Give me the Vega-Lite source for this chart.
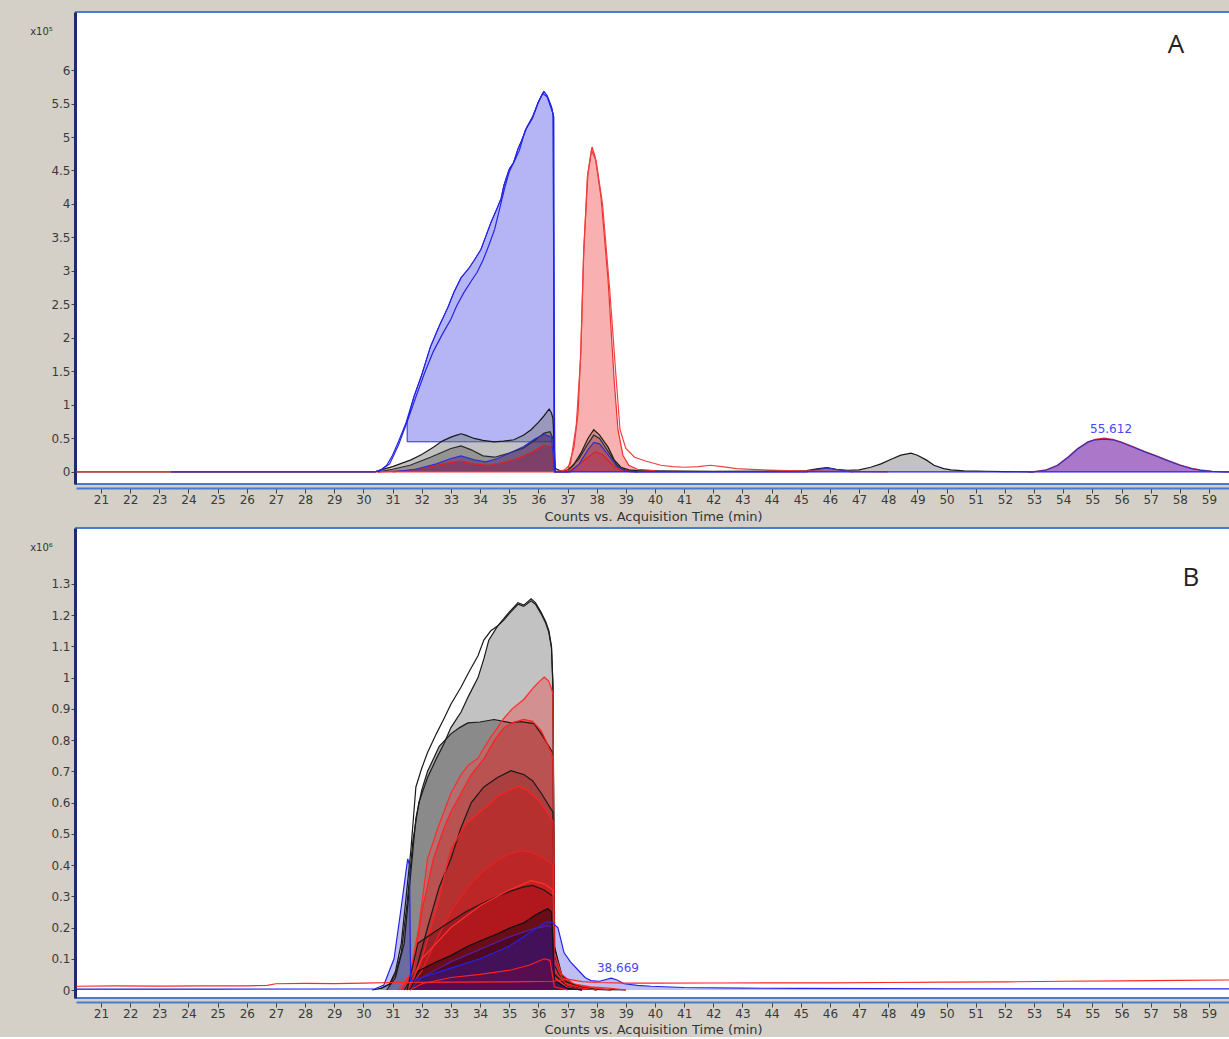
{
"$schema": "https://vega.github.io/schema/vega-lite/v6.json",
"background": "#d4d0c8",
"padding": {"left": 28, "top": 11, "right": 0, "bottom": 0},
"config": {
  "view": {"fill": "white", "stroke": "#4a7bd0", "strokeWidth": 2},
  "axis": {"labelFont": "DejaVu Sans", "labelFontSize": 12, "labelColor": "#3a3a3a", "titleFont": "DejaVu Sans", "titleFontSize": 13, "titleFontWeight": "normal", "titleColor": "#333", "grid": false, "tickColor": "#444", "labelOverlap": false},
  "text": {"font": "DejaVu Sans"}
},
"datasets": {
"a": [
{"s":"A01","t":20.15,"c":0},{"s":"A01","t":23.2,"c":0},{"s":"A01","t":30.4,"c":0},{"s":"A01","t":30.6,"c":3000},{"s":"A01","t":31.0,"c":8000},{"s":"A01","t":31.63,"c":18000},{"s":"A01","t":32.0,"c":26000},{"s":"A01","t":32.4,"c":37000},{"s":"A01","t":32.7,"c":46000},{"s":"A01","t":33.0,"c":52000},{"s":"A01","t":33.2,"c":55000},{"s":"A01","t":33.35,"c":57000},{"s":"A01","t":33.5,"c":55000},{"s":"A01","t":33.8,"c":50000},{"s":"A01","t":34.1,"c":47000},{"s":"A01","t":34.48,"c":45000},{"s":"A01","t":34.8,"c":46000},{"s":"A01","t":35.16,"c":48000},{"s":"A01","t":35.5,"c":55000},{"s":"A01","t":35.75,"c":63000},{"s":"A01","t":36.0,"c":74000},{"s":"A01","t":36.16,"c":82000},{"s":"A01","t":36.3,"c":90000},{"s":"A01","t":36.37,"c":94000},{"s":"A01","t":36.45,"c":88000},{"s":"A01","t":36.5,"c":80000},{"s":"A01","t":36.58,"c":5000},{"s":"A01","t":36.8,"c":1000},{"s":"A01","t":37.0,"c":3000},{"s":"A01","t":37.2,"c":10000},{"s":"A01","t":37.46,"c":28000},{"s":"A01","t":37.7,"c":50000},{"s":"A01","t":37.9,"c":63000},{"s":"A01","t":38.1,"c":55000},{"s":"A01","t":38.39,"c":37000},{"s":"A01","t":38.6,"c":18000},{"s":"A01","t":38.83,"c":7000},{"s":"A01","t":39.1,"c":3000},{"s":"A01","t":39.4,"c":2000},{"s":"A01","t":40.0,"c":1500},{"s":"A01","t":42.0,"c":1000},{"s":"A01","t":44.0,"c":1500},{"s":"A01","t":45.2,"c":2000},{"s":"A01","t":45.6,"c":5000},{"s":"A01","t":45.9,"c":6500},{"s":"A01","t":46.2,"c":4000},{"s":"A01","t":46.6,"c":2500},{"s":"A01","t":47.0,"c":3000},{"s":"A01","t":47.4,"c":7000},{"s":"A01","t":47.75,"c":12000},{"s":"A01","t":48.1,"c":19000},{"s":"A01","t":48.43,"c":25000},{"s":"A01","t":48.78,"c":28000},{"s":"A01","t":49.0,"c":25000},{"s":"A01","t":49.3,"c":18000},{"s":"A01","t":49.57,"c":10000},{"s":"A01","t":49.9,"c":5000},{"s":"A01","t":50.15,"c":3000},{"s":"A01","t":50.6,"c":1500},{"s":"A01","t":51.35,"c":1000},{"s":"A01","t":52.0,"c":500},{"s":"A01","t":53.0,"c":0},
{"s":"A02","t":30.5,"c":0},{"s":"A02","t":31.0,"c":4000},{"s":"A02","t":31.6,"c":10000},{"s":"A02","t":32.3,"c":22000},{"s":"A02","t":33.0,"c":35000},{"s":"A02","t":33.35,"c":39000},{"s":"A02","t":33.7,"c":33000},{"s":"A02","t":34.1,"c":24000},{"s":"A02","t":34.5,"c":22000},{"s":"A02","t":35.0,"c":28000},{"s":"A02","t":35.5,"c":36000},{"s":"A02","t":35.9,"c":48000},{"s":"A02","t":36.2,"c":58000},{"s":"A02","t":36.4,"c":60000},{"s":"A02","t":36.5,"c":50000},{"s":"A02","t":36.58,"c":0},{"s":"A02","t":37.0,"c":2000},{"s":"A02","t":37.4,"c":20000},{"s":"A02","t":37.7,"c":42000},{"s":"A02","t":37.9,"c":55000},{"s":"A02","t":38.1,"c":50000},{"s":"A02","t":38.4,"c":30000},{"s":"A02","t":38.7,"c":10000},{"s":"A02","t":39.0,"c":2000},{"s":"A02","t":39.4,"c":0},
{"s":"A03","t":30.5,"c":0},{"s":"A03","t":31.5,"c":2000},{"s":"A03","t":32.3,"c":8000},{"s":"A03","t":33.0,"c":14000},{"s":"A03","t":33.35,"c":16000},{"s":"A03","t":33.8,"c":12000},{"s":"A03","t":34.3,"c":10000},{"s":"A03","t":34.8,"c":14000},{"s":"A03","t":35.3,"c":20000},{"s":"A03","t":35.8,"c":30000},{"s":"A03","t":36.2,"c":40000},{"s":"A03","t":36.45,"c":38000},{"s":"A03","t":36.55,"c":0},{"s":"A03","t":37.0,"c":0},{"s":"A03","t":37.3,"c":8000},{"s":"A03","t":37.7,"c":22000},{"s":"A03","t":37.95,"c":30000},{"s":"A03","t":38.2,"c":26000},{"s":"A03","t":38.5,"c":12000},{"s":"A03","t":38.8,"c":3000},{"s":"A03","t":39.2,"c":0},
{"s":"A04","t":31.0,"c":0},{"s":"A04","t":31.8,"c":4000},{"s":"A04","t":32.5,"c":12000},{"s":"A04","t":33.0,"c":20000},{"s":"A04","t":33.35,"c":24000},{"s":"A04","t":33.8,"c":18000},{"s":"A04","t":34.2,"c":15000},{"s":"A04","t":34.6,"c":20000},{"s":"A04","t":35.0,"c":28000},{"s":"A04","t":35.5,"c":38000},{"s":"A04","t":35.9,"c":50000},{"s":"A04","t":36.2,"c":56000},{"s":"A04","t":36.45,"c":52000},{"s":"A04","t":36.55,"c":0},{"s":"A04","t":37.1,"c":0},{"s":"A04","t":37.4,"c":12000},{"s":"A04","t":37.7,"c":33000},{"s":"A04","t":37.9,"c":44000},{"s":"A04","t":38.1,"c":42000},{"s":"A04","t":38.4,"c":25000},{"s":"A04","t":38.7,"c":8000},{"s":"A04","t":39.0,"c":1000},{"s":"A04","t":39.3,"c":0},{"s":"A04","t":45.2,"c":0},{"s":"A04","t":45.5,"c":3000},{"s":"A04","t":45.9,"c":6000},{"s":"A04","t":46.3,"c":3000},{"s":"A04","t":46.8,"c":0},
{"s":"A05","t":36.8,"c":0},{"s":"A05","t":37.0,"c":2000},{"s":"A05","t":37.22,"c":37000},{"s":"A05","t":37.36,"c":88000},{"s":"A05","t":37.46,"c":187000},{"s":"A05","t":37.56,"c":336000},{"s":"A05","t":37.7,"c":446000},{"s":"A05","t":37.84,"c":485000},{"s":"A05","t":37.95,"c":470000},{"s":"A05","t":38.15,"c":410000},{"s":"A05","t":38.39,"c":287000},{"s":"A05","t":38.6,"c":137000},{"s":"A05","t":38.73,"c":63000},{"s":"A05","t":38.9,"c":25000},{"s":"A05","t":39.1,"c":10000},{"s":"A05","t":39.4,"c":4000},{"s":"A05","t":40.0,"c":2000},
{"s":"A06","t":20.15,"c":0},{"s":"A06","t":36.6,"c":0},{"s":"A06","t":36.9,"c":3000},{"s":"A06","t":37.1,"c":12000},{"s":"A06","t":37.3,"c":70000},{"s":"A06","t":37.45,"c":170000},{"s":"A06","t":37.55,"c":320000},{"s":"A06","t":37.68,"c":440000},{"s":"A06","t":37.82,"c":480000},{"s":"A06","t":37.98,"c":465000},{"s":"A06","t":38.2,"c":400000},{"s":"A06","t":38.45,"c":270000},{"s":"A06","t":38.65,"c":150000},{"s":"A06","t":38.8,"c":63000},{"s":"A06","t":39.0,"c":35000},{"s":"A06","t":39.3,"c":22000},{"s":"A06","t":39.7,"c":16000},{"s":"A06","t":40.2,"c":10000},{"s":"A06","t":40.6,"c":8000},{"s":"A06","t":41.0,"c":7000},{"s":"A06","t":41.5,"c":8000},{"s":"A06","t":41.9,"c":10000},{"s":"A06","t":42.3,"c":8000},{"s":"A06","t":42.8,"c":5000},{"s":"A06","t":43.5,"c":3500},{"s":"A06","t":44.2,"c":2500},{"s":"A06","t":45.0,"c":1500},{"s":"A06","t":46.0,"c":1000},{"s":"A06","t":47.0,"c":500},{"s":"A06","t":48.0,"c":0},
{"s":"A07","t":23.4,"c":0},{"s":"A07","t":30.4,"c":0},{"s":"A07","t":30.6,"c":3000},{"s":"A07","t":30.8,"c":10000},{"s":"A07","t":31.0,"c":25000},{"s":"A07","t":31.2,"c":45000},{"s":"A07","t":31.46,"c":73000},{"s":"A07","t":31.73,"c":112000},{"s":"A07","t":32.0,"c":145000},{"s":"A07","t":32.3,"c":187000},{"s":"A07","t":32.6,"c":218000},{"s":"A07","t":32.9,"c":246000},{"s":"A07","t":33.1,"c":268000},{"s":"A07","t":33.35,"c":290000},{"s":"A07","t":33.6,"c":303000},{"s":"A07","t":33.8,"c":316000},{"s":"A07","t":34.03,"c":332000},{"s":"A07","t":34.2,"c":352000},{"s":"A07","t":34.37,"c":372000},{"s":"A07","t":34.55,"c":390000},{"s":"A07","t":34.72,"c":408000},{"s":"A07","t":34.82,"c":428000},{"s":"A07","t":35.0,"c":452000},{"s":"A07","t":35.15,"c":462000},{"s":"A07","t":35.3,"c":482000},{"s":"A07","t":35.4,"c":492000},{"s":"A07","t":35.6,"c":514000},{"s":"A07","t":35.8,"c":530000},{"s":"A07","t":35.99,"c":551000},{"s":"A07","t":36.1,"c":561000},{"s":"A07","t":36.19,"c":568000},{"s":"A07","t":36.3,"c":562000},{"s":"A07","t":36.45,"c":545000},{"s":"A07","t":36.52,"c":530000},{"s":"A07","t":36.56,"c":0},{"s":"A07","t":59.72,"c":0},
{"s":"A08","t":30.5,"c":0},{"s":"A08","t":30.9,"c":12000},{"s":"A08","t":31.2,"c":40000},{"s":"A08","t":31.5,"c":75000},{"s":"A08","t":31.8,"c":112000},{"s":"A08","t":32.1,"c":148000},{"s":"A08","t":32.4,"c":180000},{"s":"A08","t":32.7,"c":205000},{"s":"A08","t":33.0,"c":228000},{"s":"A08","t":33.2,"c":248000},{"s":"A08","t":33.45,"c":268000},{"s":"A08","t":33.7,"c":285000},{"s":"A08","t":33.9,"c":298000},{"s":"A08","t":34.1,"c":316000},{"s":"A08","t":34.3,"c":338000},{"s":"A08","t":34.5,"c":362000},{"s":"A08","t":34.7,"c":398000},{"s":"A08","t":34.85,"c":425000},{"s":"A08","t":35.0,"c":448000},{"s":"A08","t":35.2,"c":466000},{"s":"A08","t":35.35,"c":480000},{"s":"A08","t":35.55,"c":510000},{"s":"A08","t":35.8,"c":528000},{"s":"A08","t":36.0,"c":552000},{"s":"A08","t":36.15,"c":565000},{"s":"A08","t":36.3,"c":560000},{"s":"A08","t":36.5,"c":535000},{"s":"A08","t":36.56,"c":0},
{"s":"A09","t":52.8,"c":0},{"s":"A09","t":53.0,"c":500},{"s":"A09","t":53.4,"c":3000},{"s":"A09","t":53.8,"c":10000},{"s":"A09","t":54.16,"c":22000},{"s":"A09","t":54.5,"c":35000},{"s":"A09","t":54.85,"c":45000},{"s":"A09","t":55.1,"c":48500},{"s":"A09","t":55.4,"c":50500},{"s":"A09","t":55.7,"c":48500},{"s":"A09","t":56.0,"c":44500},{"s":"A09","t":56.43,"c":37000},{"s":"A09","t":56.8,"c":30500},{"s":"A09","t":57.2,"c":24000},{"s":"A09","t":57.6,"c":17000},{"s":"A09","t":58.0,"c":10500},{"s":"A09","t":58.4,"c":5500},{"s":"A09","t":58.7,"c":3000},{"s":"A09","t":59.1,"c":1000},{"s":"A09","t":59.5,"c":300},{"s":"A09","t":59.72,"c":0},
{"s":"A10","t":52.8,"c":0},{"s":"A10","t":53.0,"c":300},{"s":"A10","t":53.4,"c":2500},{"s":"A10","t":53.8,"c":9500},{"s":"A10","t":54.16,"c":21500},{"s":"A10","t":54.5,"c":34500},{"s":"A10","t":54.85,"c":44500},{"s":"A10","t":55.1,"c":48000},{"s":"A10","t":55.4,"c":49000},{"s":"A10","t":55.7,"c":48000},{"s":"A10","t":56.0,"c":44000},{"s":"A10","t":56.43,"c":36500},{"s":"A10","t":56.8,"c":30000},{"s":"A10","t":57.2,"c":23500},{"s":"A10","t":57.6,"c":16500},{"s":"A10","t":58.0,"c":10000},{"s":"A10","t":58.4,"c":5000},{"s":"A10","t":58.7,"c":2500},{"s":"A10","t":59.1,"c":800},{"s":"A10","t":59.5,"c":200},{"s":"A10","t":59.72,"c":0}
],
"afill": [
{"t":31.5,"c":76000,"b":45000},{"t":31.73,"c":112000,"b":45000},{"t":32.0,"c":145000,"b":45000},{"t":32.3,"c":187000,"b":45000},{"t":32.6,"c":218000,"b":45000},{"t":32.9,"c":246000,"b":45000},{"t":33.1,"c":268000,"b":45000},{"t":33.35,"c":290000,"b":45000},{"t":33.6,"c":303000,"b":45000},{"t":33.8,"c":316000,"b":45000},{"t":34.03,"c":332000,"b":45000},{"t":34.2,"c":352000,"b":45000},{"t":34.37,"c":372000,"b":45000},{"t":34.55,"c":390000,"b":45000},{"t":34.72,"c":408000,"b":45000},{"t":34.82,"c":428000,"b":45000},{"t":35.0,"c":452000,"b":45000},{"t":35.15,"c":462000,"b":45000},{"t":35.3,"c":482000,"b":45000},{"t":35.4,"c":492000,"b":45000},{"t":35.6,"c":514000,"b":45000},{"t":35.8,"c":530000,"b":45000},{"t":35.99,"c":551000,"b":45000},{"t":36.1,"c":561000,"b":45000},{"t":36.19,"c":568000,"b":45000},{"t":36.3,"c":562000,"b":45000},{"t":36.45,"c":545000,"b":45000},{"t":36.53,"c":530000,"b":45000}
],
"b": [
{"s":"B01","t":30.3,"c":0},{"s":"B01","t":30.6,"c":5000},{"s":"B01","t":30.9,"c":20000},{"s":"B01","t":31.1,"c":60000},{"s":"B01","t":31.3,"c":150000},{"s":"B01","t":31.5,"c":330000},{"s":"B01","t":31.63,"c":450000},{"s":"B01","t":31.8,"c":650000},{"s":"B01","t":32.0,"c":710000},{"s":"B01","t":32.2,"c":760000},{"s":"B01","t":32.5,"c":820000},{"s":"B01","t":32.77,"c":870000},{"s":"B01","t":33.0,"c":915000},{"s":"B01","t":33.35,"c":970000},{"s":"B01","t":33.6,"c":1015000},{"s":"B01","t":33.93,"c":1070000},{"s":"B01","t":34.13,"c":1120000},{"s":"B01","t":34.37,"c":1150000},{"s":"B01","t":34.6,"c":1165000},{"s":"B01","t":34.82,"c":1190000},{"s":"B01","t":35.0,"c":1210000},{"s":"B01","t":35.3,"c":1240000},{"s":"B01","t":35.5,"c":1232000},{"s":"B01","t":35.75,"c":1252000},{"s":"B01","t":35.9,"c":1240000},{"s":"B01","t":36.09,"c":1210000},{"s":"B01","t":36.25,"c":1180000},{"s":"B01","t":36.36,"c":1150000},{"s":"B01","t":36.45,"c":1100000},{"s":"B01","t":36.5,"c":980000},{"s":"B01","t":36.56,"c":130000},{"s":"B01","t":36.8,"c":45000},{"s":"B01","t":37.2,"c":14000},{"s":"B01","t":38.0,"c":2000},{"s":"B01","t":39.0,"c":0},
{"s":"B02","t":30.6,"c":5000},{"s":"B02","t":30.9,"c":18000},{"s":"B02","t":31.1,"c":50000},{"s":"B02","t":31.3,"c":120000},{"s":"B02","t":31.5,"c":280000},{"s":"B02","t":31.7,"c":480000},{"s":"B02","t":31.9,"c":600000},{"s":"B02","t":32.2,"c":680000},{"s":"B02","t":32.5,"c":740000},{"s":"B02","t":32.77,"c":790000},{"s":"B02","t":33.0,"c":840000},{"s":"B02","t":33.35,"c":890000},{"s":"B02","t":33.6,"c":940000},{"s":"B02","t":33.93,"c":1000000},{"s":"B02","t":34.13,"c":1060000},{"s":"B02","t":34.3,"c":1120000},{"s":"B02","t":34.6,"c":1165000},{"s":"B02","t":34.82,"c":1185000},{"s":"B02","t":35.0,"c":1205000},{"s":"B02","t":35.3,"c":1235000},{"s":"B02","t":35.5,"c":1228000},{"s":"B02","t":35.75,"c":1246000},{"s":"B02","t":35.9,"c":1235000},{"s":"B02","t":36.09,"c":1205000},{"s":"B02","t":36.25,"c":1175000},{"s":"B02","t":36.36,"c":1145000},{"s":"B02","t":36.45,"c":1095000},{"s":"B02","t":36.5,"c":970000},{"s":"B02","t":36.55,"c":140000},{"s":"B02","t":36.8,"c":50000},{"s":"B02","t":37.2,"c":15000},{"s":"B02","t":37.8,"c":3000},{"s":"B02","t":38.5,"c":0},
{"s":"B03","t":30.8,"c":0},{"s":"B03","t":31.1,"c":40000},{"s":"B03","t":31.4,"c":150000},{"s":"B03","t":31.6,"c":350000},{"s":"B03","t":31.8,"c":550000},{"s":"B03","t":32.0,"c":640000},{"s":"B03","t":32.2,"c":700000},{"s":"B03","t":32.6,"c":780000},{"s":"B03","t":33.0,"c":820000},{"s":"B03","t":33.3,"c":840000},{"s":"B03","t":33.58,"c":855000},{"s":"B03","t":34.0,"c":858000},{"s":"B03","t":34.48,"c":866000},{"s":"B03","t":34.8,"c":860000},{"s":"B03","t":35.06,"c":855000},{"s":"B03","t":35.4,"c":859000},{"s":"B03","t":35.85,"c":853000},{"s":"B03","t":36.1,"c":820000},{"s":"B03","t":36.3,"c":790000},{"s":"B03","t":36.43,"c":770000},{"s":"B03","t":36.5,"c":760000},{"s":"B03","t":36.55,"c":110000},{"s":"B03","t":36.8,"c":38000},{"s":"B03","t":37.2,"c":10000},{"s":"B03","t":38.0,"c":0},
{"s":"B04","t":31.2,"c":0},{"s":"B04","t":31.6,"c":50000},{"s":"B04","t":31.9,"c":200000},{"s":"B04","t":32.2,"c":420000},{"s":"B04","t":32.56,"c":520000},{"s":"B04","t":32.8,"c":580000},{"s":"B04","t":33.0,"c":630000},{"s":"B04","t":33.35,"c":690000},{"s":"B04","t":33.6,"c":720000},{"s":"B04","t":33.93,"c":742000},{"s":"B04","t":34.1,"c":770000},{"s":"B04","t":34.37,"c":810000},{"s":"B04","t":34.6,"c":840000},{"s":"B04","t":34.82,"c":870000},{"s":"B04","t":35.1,"c":900000},{"s":"B04","t":35.5,"c":930000},{"s":"B04","t":35.8,"c":965000},{"s":"B04","t":36.0,"c":985000},{"s":"B04","t":36.2,"c":1002000},{"s":"B04","t":36.35,"c":990000},{"s":"B04","t":36.43,"c":970000},{"s":"B04","t":36.5,"c":950000},{"s":"B04","t":36.55,"c":120000},{"s":"B04","t":36.8,"c":50000},{"s":"B04","t":37.2,"c":20000},{"s":"B04","t":37.8,"c":10000},{"s":"B04","t":38.5,"c":5000},{"s":"B04","t":39.0,"c":0},
{"s":"B05","t":31.3,"c":0},{"s":"B05","t":31.7,"c":60000},{"s":"B05","t":32.0,"c":250000},{"s":"B05","t":32.4,"c":420000},{"s":"B05","t":32.77,"c":520000},{"s":"B05","t":33.0,"c":570000},{"s":"B05","t":33.35,"c":630000},{"s":"B05","t":33.7,"c":690000},{"s":"B05","t":34.13,"c":740000},{"s":"B05","t":34.5,"c":800000},{"s":"B05","t":34.82,"c":840000},{"s":"B05","t":35.1,"c":855000},{"s":"B05","t":35.5,"c":866000},{"s":"B05","t":35.8,"c":860000},{"s":"B05","t":36.1,"c":830000},{"s":"B05","t":36.3,"c":790000},{"s":"B05","t":36.43,"c":760000},{"s":"B05","t":36.5,"c":740000},{"s":"B05","t":36.55,"c":100000},{"s":"B05","t":36.8,"c":40000},{"s":"B05","t":37.3,"c":15000},{"s":"B05","t":38.0,"c":5000},{"s":"B05","t":38.5,"c":0},
{"s":"B06","t":31.4,"c":0},{"s":"B06","t":31.8,"c":60000},{"s":"B06","t":32.2,"c":200000},{"s":"B06","t":32.6,"c":330000},{"s":"B06","t":33.0,"c":420000},{"s":"B06","t":33.35,"c":520000},{"s":"B06","t":33.7,"c":600000},{"s":"B06","t":34.13,"c":650000},{"s":"B06","t":34.6,"c":680000},{"s":"B06","t":35.06,"c":702000},{"s":"B06","t":35.3,"c":695000},{"s":"B06","t":35.5,"c":690000},{"s":"B06","t":35.8,"c":670000},{"s":"B06","t":36.1,"c":630000},{"s":"B06","t":36.43,"c":580000},{"s":"B06","t":36.5,"c":570000},{"s":"B06","t":36.55,"c":80000},{"s":"B06","t":36.8,"c":30000},{"s":"B06","t":37.5,"c":8000},{"s":"B06","t":38.0,"c":0},
{"s":"B07","t":31.5,"c":0},{"s":"B07","t":32.0,"c":100000},{"s":"B07","t":32.5,"c":260000},{"s":"B07","t":33.0,"c":450000},{"s":"B07","t":33.5,"c":530000},{"s":"B07","t":34.13,"c":580000},{"s":"B07","t":34.6,"c":620000},{"s":"B07","t":35.0,"c":640000},{"s":"B07","t":35.3,"c":652000},{"s":"B07","t":35.6,"c":640000},{"s":"B07","t":35.98,"c":610000},{"s":"B07","t":36.3,"c":570000},{"s":"B07","t":36.5,"c":540000},{"s":"B07","t":36.55,"c":70000},{"s":"B07","t":36.8,"c":25000},{"s":"B07","t":37.5,"c":6000},{"s":"B07","t":38.0,"c":0},
{"s":"B08","t":31.5,"c":0},{"s":"B08","t":32.0,"c":60000},{"s":"B08","t":32.5,"c":160000},{"s":"B08","t":33.0,"c":250000},{"s":"B08","t":33.5,"c":320000},{"s":"B08","t":34.0,"c":370000},{"s":"B08","t":34.5,"c":410000},{"s":"B08","t":35.0,"c":435000},{"s":"B08","t":35.4,"c":446000},{"s":"B08","t":35.8,"c":440000},{"s":"B08","t":36.2,"c":420000},{"s":"B08","t":36.5,"c":400000},{"s":"B08","t":36.55,"c":60000},{"s":"B08","t":37.0,"c":15000},{"s":"B08","t":37.5,"c":0},
{"s":"B09","t":31.5,"c":0},{"s":"B09","t":31.87,"c":150000},{"s":"B09","t":32.5,"c":190000},{"s":"B09","t":33.0,"c":220000},{"s":"B09","t":33.5,"c":250000},{"s":"B09","t":34.13,"c":280000},{"s":"B09","t":34.6,"c":300000},{"s":"B09","t":35.0,"c":315000},{"s":"B09","t":35.5,"c":330000},{"s":"B09","t":35.8,"c":335000},{"s":"B09","t":36.2,"c":320000},{"s":"B09","t":36.5,"c":300000},{"s":"B09","t":36.55,"c":50000},{"s":"B09","t":37.0,"c":10000},{"s":"B09","t":37.5,"c":0},
{"s":"B10","t":31.6,"c":0},{"s":"B10","t":32.0,"c":100000},{"s":"B10","t":33.0,"c":200000},{"s":"B10","t":34.0,"c":270000},{"s":"B10","t":35.0,"c":320000},{"s":"B10","t":35.75,"c":350000},{"s":"B10","t":36.2,"c":340000},{"s":"B10","t":36.5,"c":320000},{"s":"B10","t":36.55,"c":40000},{"s":"B10","t":37.0,"c":8000},{"s":"B10","t":37.5,"c":0},
{"s":"B11","t":31.6,"c":0},{"s":"B11","t":32.0,"c":40000},{"s":"B11","t":33.0,"c":90000},{"s":"B11","t":34.0,"c":130000},{"s":"B11","t":35.0,"c":170000},{"s":"B11","t":35.8,"c":195000},{"s":"B11","t":36.3,"c":205000},{"s":"B11","t":36.5,"c":200000},{"s":"B11","t":36.55,"c":30000},{"s":"B11","t":37.0,"c":5000},{"s":"B11","t":37.5,"c":0},
{"s":"B12","t":31.6,"c":0},{"s":"B12","t":31.87,"c":60000},{"s":"B12","t":32.5,"c":90000},{"s":"B12","t":33.0,"c":110000},{"s":"B12","t":33.58,"c":140000},{"s":"B12","t":34.2,"c":165000},{"s":"B12","t":34.6,"c":180000},{"s":"B12","t":35.06,"c":200000},{"s":"B12","t":35.5,"c":215000},{"s":"B12","t":35.9,"c":240000},{"s":"B12","t":36.2,"c":255000},{"s":"B12","t":36.33,"c":260000},{"s":"B12","t":36.45,"c":250000},{"s":"B12","t":36.55,"c":30000},{"s":"B12","t":37.0,"c":5000},{"s":"B12","t":37.5,"c":0},
{"s":"B13","t":31.6,"c":0},{"s":"B13","t":32.0,"c":20000},{"s":"B13","t":33.0,"c":40000},{"s":"B13","t":34.0,"c":50000},{"s":"B13","t":35.06,"c":64000},{"s":"B13","t":35.7,"c":80000},{"s":"B13","t":36.2,"c":100000},{"s":"B13","t":36.4,"c":95000},{"s":"B13","t":36.55,"c":10000},{"s":"B13","t":37.0,"c":0},
{"s":"B14","t":20.15,"c":3000},{"s":"B14","t":25.0,"c":3000},{"s":"B14","t":30.4,"c":4000},{"s":"B14","t":30.7,"c":16000},{"s":"B14","t":31.05,"c":100000},{"s":"B14","t":31.29,"c":260000},{"s":"B14","t":31.46,"c":380000},{"s":"B14","t":31.52,"c":420000},{"s":"B14","t":31.58,"c":400000},{"s":"B14","t":31.62,"c":30000},{"s":"B14","t":32.0,"c":40000},{"s":"B14","t":33.0,"c":70000},{"s":"B14","t":34.0,"c":100000},{"s":"B14","t":35.0,"c":140000},{"s":"B14","t":35.8,"c":190000},{"s":"B14","t":36.3,"c":220000},{"s":"B14","t":36.5,"c":215000},{"s":"B14","t":36.6,"c":205000},{"s":"B14","t":36.67,"c":200000},{"s":"B14","t":36.88,"c":120000},{"s":"B14","t":37.1,"c":90000},{"s":"B14","t":37.36,"c":64000},{"s":"B14","t":37.6,"c":40000},{"s":"B14","t":37.8,"c":30000},{"s":"B14","t":38.1,"c":28000},{"s":"B14","t":38.5,"c":38000},{"s":"B14","t":38.7,"c":32000},{"s":"B14","t":38.94,"c":20000},{"s":"B14","t":39.4,"c":15000},{"s":"B14","t":39.86,"c":12000},{"s":"B14","t":41.0,"c":8000},{"s":"B14","t":43.0,"c":6000},{"s":"B14","t":45.0,"c":5000},{"s":"B14","t":50.0,"c":4000},{"s":"B14","t":55.0,"c":4000},{"s":"B14","t":59.72,"c":4000},
{"s":"B15","t":20.15,"c":12000},{"s":"B15","t":21.5,"c":13000},{"s":"B15","t":23.0,"c":12500},{"s":"B15","t":24.5,"c":13500},{"s":"B15","t":26.0,"c":13000},{"s":"B15","t":26.7,"c":15000},{"s":"B15","t":27.0,"c":20000},{"s":"B15","t":28.0,"c":21000},{"s":"B15","t":29.0,"c":20500},{"s":"B15","t":30.0,"c":22000},{"s":"B15","t":31.0,"c":24000},{"s":"B15","t":33.0,"c":25000},{"s":"B15","t":35.0,"c":26000},{"s":"B15","t":36.5,"c":28000},{"s":"B15","t":37.0,"c":35000},{"s":"B15","t":37.5,"c":27000},{"s":"B15","t":38.0,"c":24000},{"s":"B15","t":39.0,"c":22000},{"s":"B15","t":40.0,"c":22000},{"s":"B15","t":42.0,"c":22500},{"s":"B15","t":44.0,"c":23000},{"s":"B15","t":46.0,"c":23000},{"s":"B15","t":48.0,"c":24000},{"s":"B15","t":50.0,"c":25000},{"s":"B15","t":52.0,"c":26000},{"s":"B15","t":54.0,"c":28000},{"s":"B15","t":56.0,"c":29000},{"s":"B15","t":58.0,"c":31000},{"s":"B15","t":59.72,"c":32000}
]
},
"resolve": {"scale": {"x": "independent", "y": "independent", "fill": "independent", "stroke": "independent"}},
"vconcat": [
{
  "width": 1154, "height": 472,
  "encoding": {
    "x": {"field": "t", "type": "quantitative", "scale": {"domain": [20.143, 59.72], "nice": false, "zero": false},
      "axis": {"values": [21,22,23,24,25,26,27,28,29,30,31,32,33,34,35,36,37,38,39,40,41,42,43,44,45,46,47,48,49,50,51,52,53,54,55,56,57,58,59], "labelOverlap": false, "title": "Counts vs. Acquisition Time (min)", "domainColor": "#4a7bd0", "domainWidth": 2, "offset": 4, "tickSize": 5, "labelPadding": 1, "titlePadding": 5}},
    "y": {"field": "c", "type": "quantitative", "stack": null, "scale": {"domain": [-18000, 686600], "nice": false, "zero": false},
      "axis": {"values": [0,50000,100000,150000,200000,250000,300000,350000,400000,450000,500000,550000,600000], "labelOverlap": false, "labelExpr": "'' + datum.value/100000", "title": "x10⁵", "titleFontSize": 10, "titleAngle": 0, "titleX": -34, "titleY": 19, "titleAlign": "center", "titleBaseline": "middle", "domainColor": "#1c2c6c", "domainWidth": 3, "offset": 1, "tickSize": 4, "labelPadding": 1}}
  },
  "layer": [
    {"data": {"name": "afill"}, "mark": {"type": "area", "fill": "rgba(90,90,235,0.45)", "stroke": "#2828e8", "strokeWidth": 1, "clip": true},
     "encoding": {"y2": {"field": "b"}}},
    {"data": {"name": "a"}, "mark": {"type": "area", "clip": true},
     "encoding": {
       "fill": {"field": "s", "type": "nominal", "legend": null, "scale": {"domain": ["A01","A02","A03","A04","A05","A06","A07","A08","A09","A10"], "range": ["rgba(120,120,120,0.45)","rgba(80,80,80,0.4)","rgba(200,30,30,0.4)","rgba(70,20,110,0.45)","rgba(240,80,80,0.45)","rgba(0,0,0,0)","rgba(0,0,0,0)","rgba(0,0,0,0)","rgba(230,60,60,0.35)","rgba(80,40,220,0.45)"]}}}},
    {"data": {"name": "a"}, "mark": {"type": "line", "strokeWidth": 1.2, "clip": true},
     "encoding": {
       "stroke": {"field": "s", "type": "nominal", "legend": null, "scale": {"domain": ["A01","A02","A03","A04","A05","A06","A07","A08","A09","A10"], "range": ["#1a1a1a","#2a2a2a","#e02020","#3030c8","#f03030","#f04040","#2424e8","#2424e8","#e83030","#3030c0"]}}}},
    {"data": {"values": [{"label": "A", "t": 57.87, "c": 637000}]}, "mark": {"type": "text", "font": "Open Sans", "fontSize": 26, "color": "#222"},
     "encoding": {"text": {"field": "label"}}},
    {"data": {"values": [{"label": "55.612", "t": 55.64, "c": 64000}]}, "mark": {"type": "text", "fontSize": 12, "color": "#4848f0"},
     "encoding": {"text": {"field": "label"}}}
  ]
},
{
  "width": 1154, "height": 470,
  "encoding": {
    "x": {"field": "t", "type": "quantitative", "scale": {"domain": [20.143, 59.72], "nice": false, "zero": false},
      "axis": {"values": [21,22,23,24,25,26,27,28,29,30,31,32,33,34,35,36,37,38,39,40,41,42,43,44,45,46,47,48,49,50,51,52,53,54,55,56,57,58,59], "labelOverlap": false, "title": "Counts vs. Acquisition Time (min)", "domainColor": "#4a7bd0", "domainWidth": 2, "offset": 4, "tickSize": 5, "labelPadding": 1, "titlePadding": 4}},
    "y": {"field": "c", "type": "quantitative", "stack": null, "scale": {"domain": [-25600, 1479000], "nice": false, "zero": false},
      "axis": {"values": [0,100000,200000,300000,400000,500000,600000,700000,800000,900000,1000000,1100000,1200000,1300000], "labelOverlap": false, "labelExpr": "'' + datum.value/1000000", "title": "x10⁶", "titleFontSize": 10, "titleAngle": 0, "titleX": -34, "titleY": 19, "titleAlign": "center", "titleBaseline": "middle", "domainColor": "#1c2c6c", "domainWidth": 3, "offset": 1, "tickSize": 4, "labelPadding": 1}}
  },
  "layer": [
    {"data": {"name": "b"}, "mark": {"type": "area", "clip": true},
     "encoding": {
       "fill": {"field": "s", "type": "nominal", "legend": null, "scale": {"domain": ["B01","B02","B03","B04","B05","B06","B07","B08","B09","B10","B11","B12","B13","B14","B15"], "range": ["rgba(0,0,0,0)","rgba(120,120,120,0.45)","rgba(70,70,70,0.45)","rgba(235,70,70,0.4)","rgba(200,40,40,0.4)","rgba(140,30,30,0.35)","rgba(210,20,20,0.35)","rgba(200,20,20,0.35)","rgba(100,10,30,0.35)","rgba(220,20,20,0.3)","rgba(60,0,80,0.4)","rgba(20,0,20,0.45)","rgba(150,0,0,0.4)","rgba(40,40,220,0.3)","rgba(0,0,0,0)"]}}}},
    {"data": {"name": "b"}, "mark": {"type": "line", "strokeWidth": 1.2, "clip": true},
     "encoding": {
       "stroke": {"field": "s", "type": "nominal", "legend": null, "scale": {"domain": ["B01","B02","B03","B04","B05","B06","B07","B08","B09","B10","B11","B12","B13","B14","B15"], "range": ["#1a1a1a","#1a1a1a","#1a1a1a","#ff2a2a","#ff2020","#1a1a1a","#ff2020","#e82020","#1a1a1a","#ff3030","#5020a0","#101010","#ff2020","#2424e8","#ff2828"]}}}},
    {"data": {"values": [{"label": "B", "t": 58.38, "c": 1319000}]}, "mark": {"type": "text", "font": "Open Sans", "fontSize": 26, "color": "#222"},
     "encoding": {"text": {"field": "label"}}},
    {"data": {"values": [{"label": "38.669", "t": 38.73, "c": 70000}]}, "mark": {"type": "text", "fontSize": 12, "color": "#4848f0"},
     "encoding": {"text": {"field": "label"}}}
  ]
}
],
"spacing": 44,
"bounds": "flush"
}
